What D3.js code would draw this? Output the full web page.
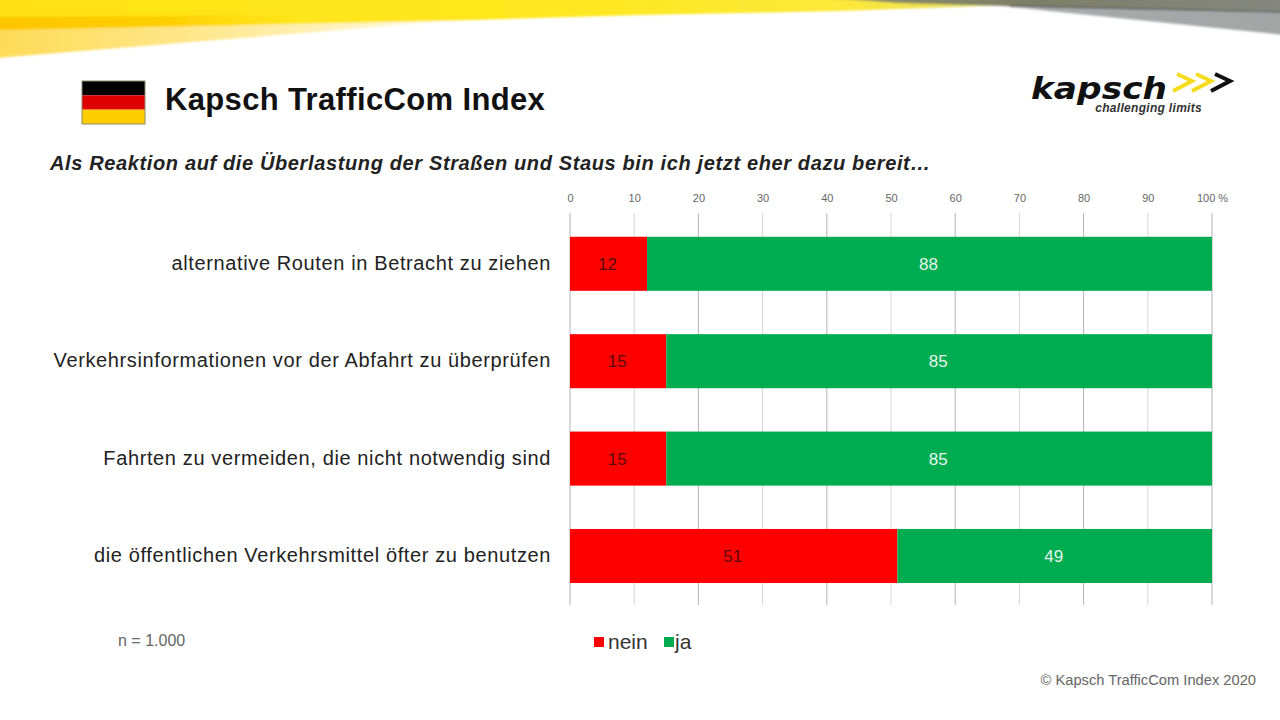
<!DOCTYPE html>
<html lang="de">
<head>
<meta charset="utf-8">
<title>Kapsch TrafficCom Index</title>
<script src="https://cdn.jsdelivr.net/npm/d3@7"></script>
<style>
  html, body { margin: 0; padding: 0; background: #fff; }
  svg { display: block; }
  text { font-family: "Liberation Sans", Arial, sans-serif; }
  .tick-label { fill: #666; font-size: 11px; }
</style>
</head>
<body>
<svg id="chart" width="1280" height="720"></svg>
<script>
  // --- Data ---
  const categories = [
    'alternative Routen in Betracht zu ziehen',
    'Verkehrsinformationen vor der Abfahrt zu überprüfen',
    'Fahrten zu vermeiden, die nicht notwendig sind',
    'die öffentlichen Verkehrsmittel öfter zu benutzen'
  ];
  const neinValues = [12, 15, 15, 51];
  const jaValues = [88, 85, 85, 49];
  const tickValues = [0, 10, 20, 30, 40, 50, 60, 70, 80, 90, 100];
  const seriesNames = ['nein', 'ja'];
  const seriesColors = ['#ff0000', '#00ac50'];
  const flagColors = ['#000000', '#dd0000', '#ffcc00'];

  const svg = d3.select('#chart');
  const defs = svg.append('defs');

  // --- Banner ---
  function gradient(id, stops) {
    const g = defs.append('linearGradient').attr('id', id);
    stops.forEach(([offset, color, opacity]) => g.append('stop')
      .attr('offset', offset).attr('stop-color', color)
      .attr('stop-opacity', opacity === undefined ? 1 : opacity));
  }
  gradient('bannerPale', [[0, '#fedb55'], [0.4, '#fee688'], [0.75, '#fff3c0'], [1, '#ffffff']]);
  gradient('bannerYellow', [[0, '#ffe214'], [0.6, '#ffe822'], [0.85, '#fbe83c'], [0.97, '#e4dc60'], [1, '#c8c8a0']]);
  gradient('bannerOrange', [[0, '#fdc400', 1], [0.6, '#fdcc00', 0.8], [1, '#ffd800', 0]]);
  gradient('bannerGrey', [[0, '#d8d8d0'], [0.2, '#a8abab'], [1, '#a2a5a4']]);
  gradient('bannerOlive', [[0, '#8a8a60', 0], [0.2, '#8a8a68', 1], [0.5, '#7d8068', 1], [1, '#85877f', 1]]);
  defs.append('filter').attr('id', 'soften')
    .attr('x', '-2%').attr('y', '-20%').attr('width', '104%').attr('height', '140%')
    .append('feGaussianBlur').attr('stdDeviation', 1.2);

  const banner = svg.append('g').attr('filter', 'url(#soften)');
  banner.append('path').attr('fill', 'url(#bannerPale)')
    .attr('d', 'M-5,28 L470,20 L440,22 L-5,58 Z');
  banner.append('path').attr('fill', 'url(#bannerYellow)')
    .attr('d', 'M-5,-5 L1010,-5 L1010,5 L840,11 L640,15 L440,21 L-5,30 Z');
  banner.append('path').attr('fill', 'url(#bannerOrange)')
    .attr('d', 'M-5,17 L300,15 L300,24 L-5,30 Z');
  banner.append('path').attr('fill', 'url(#bannerGrey)')
    .attr('d', 'M990,5 L1285,9 L1285,35 Z');
  banner.append('path').attr('fill', 'url(#bannerOlive)')
    .attr('d', 'M780,-5 L1285,-5 L1285,11 L1010,6 L900,3 Z');
  banner.append('line')
    .attr('x1', 1010).attr('y1', 6).attr('x2', 1285).attr('y2', 12)
    .attr('stroke', '#5c5e5e').attr('stroke-width', 1.5);

  // --- Flag ---
  const flag = svg.append('g');
  const flagY = d3.scaleBand().domain(d3.range(3)).range([81, 124]);
  flag.selectAll('rect').data(flagColors).enter().append('rect')
    .attr('x', 82).attr('width', 63)
    .attr('y', (d, i) => flagY(i))
    .attr('height', flagY.bandwidth())
    .attr('fill', d => d);
  flag.append('rect')
    .attr('x', 82).attr('y', 81).attr('width', 63).attr('height', 43)
    .attr('fill', 'none').attr('stroke', '#8a8a70').attr('stroke-width', 1);

  // --- Headings ---
  svg.append('text').attr('x', 165).attr('y', 110)
    .attr('font-size', 31).attr('font-weight', 700).attr('fill', '#111')
    .attr('letter-spacing', 0.35)
    .text('Kapsch TrafficCom Index');
  svg.append('text').attr('x', 50).attr('y', 170)
    .attr('font-size', 20).attr('font-weight', 700).attr('font-style', 'italic').attr('fill', '#222')
    .attr('letter-spacing', 0.63)
    .text('Als Reaktion auf die Überlastung der Straßen und Staus bin ich jetzt eher dazu bereit…');

  // --- Logo ---
  svg.append('text').attr('x', 1031).attr('y', 99)
    .style('font-family', '"DejaVu Sans", sans-serif')
    .attr('font-size', 30).attr('font-weight', 700).attr('font-style', 'italic').attr('fill', '#111')
    .attr('textLength', 136).attr('lengthAdjust', 'spacingAndGlyphs')
    .text('kapsch');
  svg.append('text').attr('x', 1202).attr('y', 112)
    .attr('text-anchor', 'end')
    .attr('font-size', 12).attr('font-weight', 700).attr('font-style', 'italic').attr('fill', '#333')
    .attr('letter-spacing', 0.3)
    .text('challenging limits');
  [[1177, '#f5dc1e'], [1196, '#f5dc1e'], [1215, '#111']].forEach(([x, color]) => {
    svg.append('path')
      .attr('d', `M${x},74 L${x + 15},81 L${x - 4},91`)
      .attr('fill', 'none').attr('stroke', color).attr('stroke-width', 4);
  });

  // --- Scales ---
  const x = d3.scaleLinear().domain([0, 100]).range([570, 1212]);
  const y = d3.scaleBand().domain(categories).range([217.3, 602.5]).paddingInner(0.445).paddingOuter(0.2);

  // --- Axis / grid ---
  const axis = svg.append('g').attr('transform', 'translate(0,208)')
    .call(d3.axisTop(x).tickValues(tickValues).tickSize(0).tickFormat(d => d === 100 ? '100 %' : d));
  axis.select('.domain').remove();
  axis.selectAll('text').attr('class', 'tick-label').attr('y', -6);

  svg.append('g').selectAll('line').data(tickValues).enter().append('line')
    .attr('x1', d => x(d)).attr('x2', d => x(d))
    .attr('y1', 213).attr('y2', 605)
    .attr('stroke', d => d % 20 === 0 ? '#b4b4b4' : '#d6d6d6')
    .attr('stroke-width', 1);

  // --- Bars ---
  const rows = categories.map((name, i) => ({ name, nein: neinValues[i], ja: jaValues[i] }));
  const row = svg.append('g').selectAll('g').data(rows).enter().append('g');

  row.append('rect')
    .attr('x', x(0)).attr('y', d => y(d.name))
    .attr('width', d => x(d.nein) - x(0))
    .attr('height', y.bandwidth())
    .attr('fill', seriesColors[0]);
  row.append('rect')
    .attr('x', d => x(d.nein)).attr('y', d => y(d.name))
    .attr('width', d => x(d.nein + d.ja) - x(d.nein))
    .attr('height', y.bandwidth())
    .attr('fill', seriesColors[1]);

  row.append('text')
    .attr('x', d => x(d.nein / 2) - 1).attr('y', d => y(d.name) + y.bandwidth() / 2 + 6)
    .attr('text-anchor', 'middle').attr('font-size', 17).attr('fill', '#5a0a0a')
    .text(d => d.nein);
  row.append('text')
    .attr('x', d => x(d.nein + d.ja / 2) - 1).attr('y', d => y(d.name) + y.bandwidth() / 2 + 6)
    .attr('text-anchor', 'middle').attr('font-size', 17).attr('fill', '#e6f5ec')
    .text(d => d.ja);
  row.append('text')
    .attr('x', 551).attr('y', d => y(d.name) + y.bandwidth() / 2 + 6)
    .attr('text-anchor', 'end').attr('font-size', 20).attr('fill', '#222')
    .attr('letter-spacing', 0.62)
    .text(d => d.name);

  // --- Legend ---
  const legendX = [594, 664];
  const legendTextX = [608, 675];
  const legend = svg.append('g').selectAll('g').data(seriesNames).enter().append('g');
  legend.append('rect')
    .attr('x', (d, i) => legendX[i]).attr('y', 637).attr('width', 10).attr('height', 10)
    .attr('fill', (d, i) => seriesColors[i]);
  legend.append('text')
    .attr('x', (d, i) => legendTextX[i]).attr('y', 649)
    .attr('font-size', 21).attr('fill', '#333')
    .text(d => d);

  // --- Notes ---
  svg.append('text').attr('x', 118).attr('y', 646)
    .attr('font-size', 16).attr('fill', '#666').text('n = 1.000');
  svg.append('text').attr('x', 1256).attr('y', 685)
    .attr('text-anchor', 'end').attr('font-size', 14.7).attr('fill', '#666')
    .text('© Kapsch TrafficCom Index 2020');
</script>
</body>
</html>
